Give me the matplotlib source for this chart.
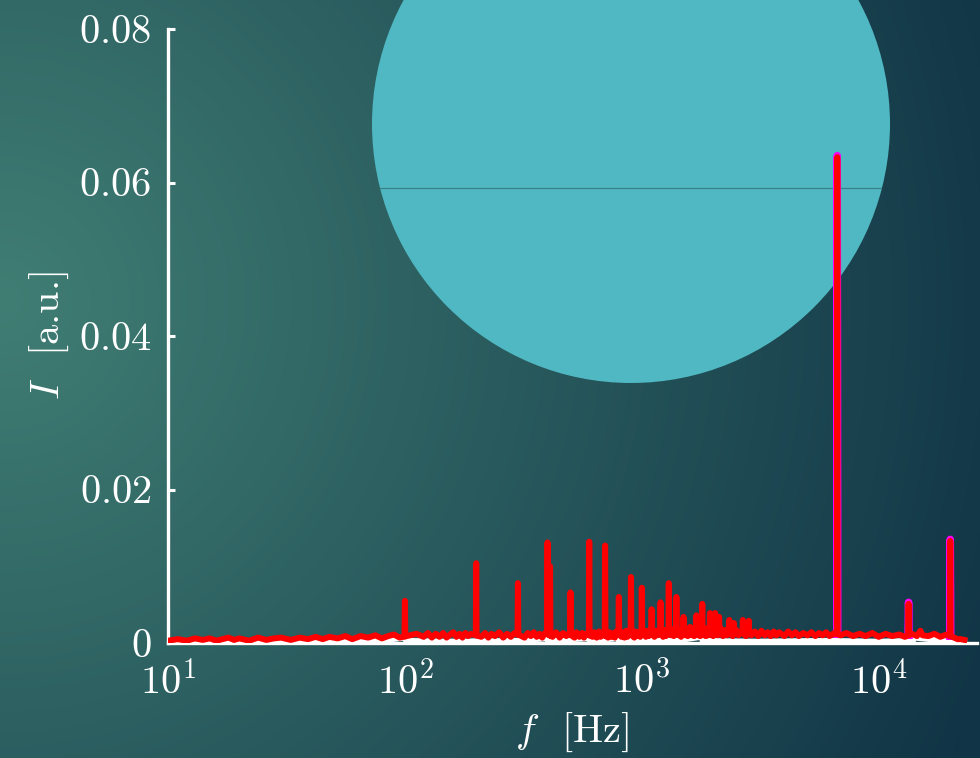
import numpy as np
import matplotlib
matplotlib.use("Agg")
import matplotlib.pyplot as plt
from matplotlib.patches import Circle
from matplotlib.lines import Line2D
from matplotlib.colors import to_rgb
from matplotlib.ticker import FixedLocator, FixedFormatter, NullLocator, LogFormatterSciNotation

plt.rcParams["mathtext.fontset"] = "cm"
plt.rcParams["font.family"] = ["cmr10", "DejaVu Serif"]
plt.rcParams["axes.unicode_minus"] = False
plt.rcParams["axes.formatter.use_mathtext"] = True

# Broadband noise floor of the spectrum (frequency in Hz, intensity in a.u.)
noise_f = [10, 11, 12, 13, 14, 15, 16, 17, 18, 19,
           20, 22, 24, 26, 28, 30, 33, 36, 39, 42,
           45, 48, 52, 56, 60, 65, 70, 75, 80, 85,
           90, 95, 105, 112, 120, 125, 130, 135, 140, 145,
           150, 155, 160, 165, 170, 175, 180, 185, 190, 210,
           218, 225, 232, 240, 250, 260, 270, 280, 290, 320,
           330, 340, 350, 360, 370, 380, 390, 420, 435, 450,
           465, 480, 490, 520, 530, 545, 560, 570, 580, 620,
           630, 645, 660, 670, 680, 720, 730, 745, 760, 770,
           780, 820, 830, 845, 860, 870, 880, 930, 940, 955,
           970, 985, 1030, 1040, 1055, 1070, 1085, 1130, 1150, 1165,
           1180, 1230, 1250, 1265, 1280, 1330, 1350, 1365, 1380, 1430,
           1450, 1465, 1480, 1530, 1550, 1565, 1580, 1630, 1650, 1665,
           1680, 1730, 1750, 1765, 1780, 1830, 1850, 1865, 1880, 1910,
           1970, 2000, 2070, 2090, 2150, 2200, 2250, 2290, 2380, 2420,
           2500, 2560, 2620, 2750, 2800, 2900, 3000, 3100, 3200, 3300,
           3400, 3500, 3600, 3700, 3800, 4000, 4150, 4300, 4450, 4600,
           4800, 5000, 5200, 5400, 5600, 5800, 6000, 6200, 6500, 6900,
           7300, 7800, 8300, 8800, 9400, 10000, 10700, 11400, 12200, 12900,
           13800, 14500, 15000, 15300, 16200, 17200, 18200, 19300, 20800, 21500,
           22200, 23000]
noise_i = [0.0003, 0.0005, 0.0003, 0.0006, 0.0004, 0.0006, 0.0003, 0.0005, 0.0007, 0.0004,
           0.0006, 0.0003, 0.0007, 0.0004, 0.0006, 0.0007, 0.0004, 0.0007, 0.0005, 0.0008,
           0.0005, 0.0008, 0.0006, 0.0009, 0.0005, 0.0009, 0.0007, 0.0010, 0.0006, 0.0009,
           0.0011, 0.0007, 0.0010, 0.0012, 0.0008, 0.0013, 0.0007, 0.0012, 0.0008, 0.0013,
           0.0007, 0.0011, 0.0014, 0.0008, 0.0012, 0.0007, 0.0013, 0.0009, 0.0012, 0.0008,
           0.0013, 0.0007, 0.0012, 0.0009, 0.0014, 0.0007, 0.0012, 0.0008, 0.0013, 0.0007,
           0.0013, 0.0009, 0.0014, 0.0008, 0.0012, 0.0007, 0.0013, 0.0008, 0.0014, 0.0007,
           0.0013, 0.0009, 0.0012, 0.0007, 0.0014, 0.0008, 0.0013, 0.0007, 0.0012, 0.0008,
           0.0014, 0.0007, 0.0015, 0.0008, 0.0012, 0.0007, 0.0014, 0.0008, 0.0013, 0.0007,
           0.0015, 0.0008, 0.0014, 0.0007, 0.0016, 0.0008, 0.0013, 0.0007, 0.0015, 0.0009,
           0.0014, 0.0008, 0.0016, 0.0008, 0.0015, 0.0009, 0.0017, 0.0008, 0.0016, 0.0010,
           0.0015, 0.0008, 0.0017, 0.0009, 0.0016, 0.0010, 0.0018, 0.0009, 0.0015, 0.0010,
           0.0017, 0.0008, 0.0016, 0.0010, 0.0019, 0.0009, 0.0017, 0.0010, 0.0016, 0.0009,
           0.0020, 0.0010, 0.0017, 0.0009, 0.0018, 0.0010, 0.0016, 0.0009, 0.0019, 0.0010,
           0.0017, 0.0009, 0.0016, 0.0010, 0.0019, 0.0009, 0.0017, 0.0010, 0.0016, 0.0009,
           0.0017, 0.0010, 0.0015, 0.0009, 0.0017, 0.0010, 0.0015, 0.0009, 0.0016, 0.0010,
           0.0014, 0.0009, 0.0015, 0.0010, 0.0014, 0.0009, 0.0015, 0.0010, 0.0014, 0.0009,
           0.0013, 0.0010, 0.0014, 0.0009, 0.0013, 0.0010, 0.0014, 0.0009, 0.0013, 0.0010,
           0.0013, 0.0009, 0.0012, 0.0009, 0.0013, 0.0008, 0.0012, 0.0009, 0.0011, 0.0008,
           0.0012, 0.0009, 0.0016, 0.0010, 0.0009, 0.0012, 0.0008, 0.0011, 0.0007, 0.0005,
           0.0005, 0.0004]

# Tonal components: harmonics of the 100 Hz hum and the 6.7 kHz tone
peak_f = [100, 200, 300, 400, 410, 500, 600, 700, 800, 900, 1000, 1100, 1200, 1300,
          1400, 1500, 1600, 1700, 1800, 1940, 2040, 2120, 2340, 2450, 2670, 2830,
          6685, 13370, 20050]
peak_i = [0.0055, 0.0104, 0.0078, 0.0131, 0.0100, 0.0066, 0.0132, 0.0127, 0.0060,
          0.0086, 0.0072, 0.0044, 0.0053, 0.0078, 0.0060, 0.0034, 0.0021, 0.0036,
          0.0051, 0.0039, 0.0039, 0.0034, 0.0030, 0.0026, 0.0030, 0.0029,
          0.0633, 0.0051, 0.0133]

# Reference spectrum drawn underneath (white)
ref_f = [10, 15, 20, 30, 50, 80, 100, 101, 150, 300, 400, 401, 600, 601, 800, 801,
         1000, 1400, 1800, 1801, 3000, 6000, 10000, 14000, 14001, 20000, 23000]
ref_i = [0.0002, 0.0003, 0.0002, 0.0003, 0.0002, 0.0003, 0.0007, 0.0003, 0.0002,
         0.0003, 0.0006, 0.0003, 0.0006, 0.0003, 0.0006, 0.0003, 0.0004, 0.0003,
         0.0008, 0.0003, 0.0002, 0.0003, 0.0002, 0.0003, 0.0007, 0.0002, 0.0002]

# Strong tone lines of the second measurement (magenta)
tone_f = [6685, 13370, 20050]
tone_i = [0.0635, 0.0053, 0.0135]

yticks = [0, 0.02, 0.04, 0.06, 0.08]
ytick_labels = ["$0$", "$0.02$", "$0.04$", "$0.06$", "$0.08$"]
xticks = [10, 100, 1000, 10000]


def floor_at(f):
    return float(np.interp(np.log10(f), np.log10(noise_f), noise_i))


def with_peaks(pf, pi, rel=0.0035):
    f = list(noise_f)
    v = list(noise_i)
    for fp, ip in zip(pf, pi):
        fl = floor_at(fp)
        f += [fp * (1 - rel), fp, fp * (1 + rel)]
        v += [fl, ip, fl]
    order = np.argsort(f)
    return np.asarray(f)[order], np.asarray(v)[order]


def isolated_peaks(pf, pi, rel=0.0045):
    f, v = [], []
    for fp, ip in zip(pf, pi):
        fl = floor_at(fp)
        f += [fp * (1 - rel), fp, fp * (1 + rel), np.nan]
        v += [fl, ip, fl, np.nan]
    return np.asarray(f), np.asarray(v)


W, H = 980, 758
fig = plt.figure(figsize=(W / 100, H / 100), dpi=100)

# radial background gradient
bg = fig.add_axes([0, 0, 1, 1], zorder=-3)
yy, xx = np.mgrid[0:H, 0:W]
t = np.clip(np.hypot(xx - 0, yy - 300) / 1050.0, 0, 1)[..., None]
c0 = np.array(to_rgb("#407e74"))
c1 = np.array(to_rgb("#113546"))
bg.imshow(c0 * (1 - t) + c1 * t, aspect="auto", extent=[0, 1, 0, 1], origin="upper")
bg.set_axis_off()

# decorative disc with a chord
disc = Circle((6.31, 7.58 - 1.24), 2.59, transform=fig.dpi_scale_trans,
              facecolor="#50b8c2", edgecolor="none", zorder=-2)
fig.add_artist(disc)
chord = Line2D([3.6, 9.1], [7.58 - 1.88, 7.58 - 1.88], transform=fig.dpi_scale_trans,
               color="#3a8088", lw=0.9, zorder=-1.5)
chord.set_clip_path(disc)
fig.add_artist(chord)

ax = fig.add_axes([168 / W, 1 - 643 / H, (977 - 168) / W, (643 - 29) / H])
ax.patch.set_alpha(0)

ax.plot(ref_f, ref_i, color="white", lw=4, zorder=2)
mf, mi = isolated_peaks(tone_f, tone_i)
ax.plot(mf, mi, color="#ff00ff", lw=5.4, zorder=3)
sf, si = with_peaks(peak_f, peak_i)
ax.plot(sf, si, color="#ff0000", lw=4.3, zorder=4)

ax.set_xscale("log")
ax.set_xlim(10, 26000)
ax.set_ylim(0, 0.08)
ax.xaxis.set_major_locator(FixedLocator(xticks))
ax.xaxis.set_major_formatter(LogFormatterSciNotation())
ax.xaxis.set_minor_locator(NullLocator())
ax.yaxis.set_major_locator(FixedLocator(yticks))
ax.yaxis.set_major_formatter(FixedFormatter(ytick_labels))

for side in ("top", "right"):
    ax.spines[side].set_visible(False)
for side in ("left", "bottom"):
    ax.spines[side].set_color("white")
    ax.spines[side].set_linewidth(2.4)

ax.tick_params(axis="both", which="major", direction="in", length=5, width=2.2,
               colors="white", labelsize=29)
ax.tick_params(axis="y", pad=12)
ax.tick_params(axis="x", pad=13)

ax.set_xlabel(r"$f$  [Hz]", fontsize=29, color="white", labelpad=6)
ax.set_ylabel(r"$I$  [a.u.]", fontsize=29, color="white", labelpad=6)

fig.savefig("out.png", dpi=100)
